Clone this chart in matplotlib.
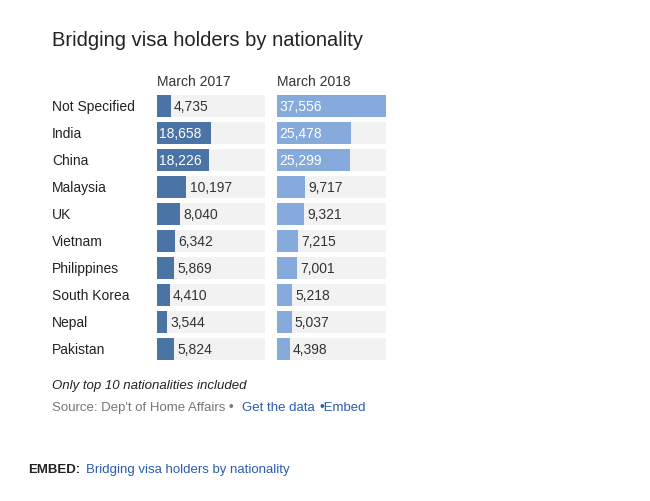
import matplotlib
matplotlib.use("Agg")
import matplotlib.pyplot as plt

categories = ["Not Specified", "India", "China", "Malaysia", "UK", "Vietnam",
              "Philippines", "South Korea", "Nepal", "Pakistan"]
v2017 = [4735, 18658, 18226, 10197, 8040, 6342, 5869, 4410, 3544, 5824]
v2018 = [37556, 25478, 25299, 9717, 9321, 7215, 7001, 5218, 5037, 4398]
headers = ["March 2017", "March 2018"]

W, H = 650, 502
fig = plt.figure(figsize=(6.5, 5.02), dpi=100)
fig.patch.set_facecolor("white")
FONT = "Liberation Sans"

def px(x, y):
    return x / W, 1 - y / H

vmax = max(max(v2017), max(v2018))
top, rowh = 93.5, 27
n = len(categories)
panels = [(157, 108, v2017, "#4a73a6"), (277, 109, v2018, "#85aadb")]
for (x0, w, vals, col), hdr in zip(panels, headers):
    ax = fig.add_axes([x0 / W, 1 - (top + n * rowh) / H, w / W, n * rowh / H])
    ax.set_xlim(0, vmax)
    ax.set_ylim(n - 0.5, -0.5)
    ax.barh(range(n), [vmax] * n, height=0.82, color="#f2f2f2", left=0)
    ax.barh(range(n), vals, height=0.82, color=col)
    for i, v in enumerate(vals):
        lab = f"{v:,}"
        if v > 15000:
            ax.text(vmax * 0.02, i, lab, color="white", va="center", ha="left",
                    fontsize=10, family=FONT)
        else:
            ax.text(v + vmax * 0.03, i, lab, color="#333333", va="center", ha="left",
                    fontsize=10, family=FONT)
    ax.axis("off")
    fig.text(*px(x0, 82), hdr, fontsize=10, family=FONT, color="#333333", va="center")

for i, c in enumerate(categories):
    fig.text(*px(52, top + rowh * (i + 0.5)), c, fontsize=10, family=FONT,
             color="#222222", va="center")

fig.text(*px(52, 40), "Bridging visa holders by nationality", fontsize=14.5,
         family=FONT, color="#222222", va="center")
fig.text(*px(52, 386), "Only top 10 nationalities included", fontsize=9.5,
         family=FONT, style="italic", color="#222222", va="center")
fig.text(*px(52, 408), "Source: Dep't of Home Affairs \u2022", fontsize=9.5,
         family=FONT, color="#777777", va="center")
fig.text(*px(242, 408), "Get the data", fontsize=9.5, family=FONT, color="#2a5db0", va="center")
fig.text(*px(320, 408), "\u2022Embed", fontsize=9.5, family=FONT, color="#2a5db0", va="center")
fig.text(*px(28, 470), "EMBED:", fontsize=9.5, family=FONT, weight="bold", color="#222222", va="center")
fig.text(*px(86, 470), "Bridging visa holders by nationality", fontsize=9.5, family=FONT,
         color="#2a5db0", va="center")

fig.savefig("out.png", dpi=100)
